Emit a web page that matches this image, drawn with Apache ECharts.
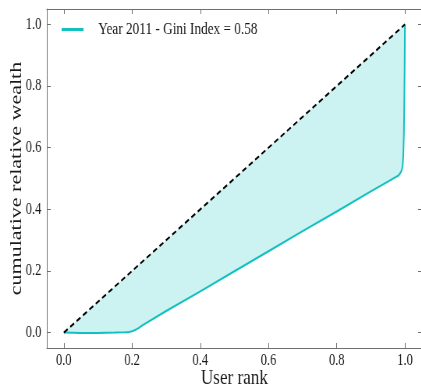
<!DOCTYPE html>
<html>
<head>
<meta charset="utf-8">
<script src="https://cdn.jsdelivr.net/npm/echarts@6/dist/echarts.min.js"></script>
<style>
  html, body { margin: 0; padding: 0; overflow: hidden; background: #fff; }
  /* the figure is drawn wide and squeezed horizontally to its final width */
  #chart { width: 560px; height: 386px; transform: scaleX(0.78); transform-origin: 0 0; }
</style>
</head>
<body>
<div id="chart"></div>
<script>
// Lorenz curve of user wealth, year 2011
const userRank = [0, 0.05, 0.1, 0.15, 0.18, 0.19, 0.2, 0.21, 0.22, 0.23, 0.3, 0.4, 0.5, 0.6, 0.7, 0.8, 0.9, 0.95, 0.97, 0.98, 0.985, 0.99, 0.993, 0.995, 0.997, 0.999, 1.0];
const cumWealth = [0, -0.001, -0.001, 0, 0.001, 0.0015, 0.004, 0.009, 0.0155, 0.0235, 0.070, 0.134, 0.199, 0.264, 0.329, 0.393, 0.458, 0.490, 0.503, 0.509, 0.515, 0.525, 0.540, 0.570, 0.650, 0.850, 1.0];
// line of perfect equality
const equalityX = [0, 1];
const equalityY = [0, 1];
const tickValues = [0, 0.2, 0.4, 0.6, 0.8, 1.0];
const legendLabel = 'Year 2011 - Gini Index = 0.58';

const FONT = 'Liberation Serif';
const AXIS_COLOR = '#6e6e6e';
const CURVE_COLOR = '#12c0c0';

const curvePts = userRank.map((x, i) => [x, cumWealth[i]]);
const equalityPts = equalityX.map((x, i) => [x, equalityY[i]]);

function tickLabel(v) {
  return tickValues.some(t => Math.abs(t - v) < 1e-6) ? v.toFixed(1) : '';
}

function axisBase(extra) {
  return Object.assign({
    type: 'value', min: -0.05, max: 1.05, splitNumber: 5,
    minInterval: 0.2, maxInterval: 0.2,
    nameMoveOverlap: false,
    splitLine: { show: false },
    axisLine: { show: true, onZero: false, lineStyle: { color: AXIS_COLOR, width: 1 } },
    axisTick: { show: true, inside: true, length: 5, lineStyle: { color: AXIS_COLOR } }
  }, extra);
}

const chart = echarts.init(document.getElementById('chart'), null, { renderer: 'canvas' });
chart.setOption({
  animation: false,
  backgroundColor: '#fff',
  grid: { left: 60, right: 19, top: 9, bottom: 38, containLabel: false, outerBoundsMode: 'none' },
  legend: {
    left: 79, top: 21, padding: 0, selectedMode: false,
    itemWidth: 28, itemHeight: 3,
    data: [{ name: legendLabel, icon: 'rect' }],
    textStyle: { fontFamily: FONT, fontSize: 17, color: '#1a1a1a', padding: [0, 0, 0, 14] }
  },
  xAxis: [
    axisBase({
      position: 'bottom',
      name: 'User rank', nameLocation: 'middle', nameGap: 19,
      nameTextStyle: { fontFamily: FONT, fontSize: 22, color: '#1a1a1a' },
      axisLabel: { fontFamily: FONT, fontSize: 16, color: '#1a1a1a', margin: 5, formatter: tickLabel }
    }),
    axisBase({ position: 'top', axisLabel: { show: false } })
  ],
  yAxis: [
    axisBase({
      position: 'left',
      name: 'cumulative relative wealth', nameLocation: 'middle', nameGap: 28,
      nameTextStyle: { fontFamily: FONT, fontSize: 22, color: '#1a1a1a' },
      axisLabel: { fontFamily: FONT, fontSize: 16, color: '#1a1a1a', margin: 7, formatter: tickLabel }
    }),
    axisBase({ position: 'right', axisLabel: { show: false } })
  ],
  series: [
    {
      // shaded region between equality line and the Lorenz curve
      type: 'custom', name: 'gap', xAxisIndex: 0, yAxisIndex: 0,
      data: [[0, 0]], silent: true, z: 1,
      renderItem: function (params, api) {
        const pts = [];
        equalityPts.forEach(p => pts.push(api.coord(p)));
        for (let i = curvePts.length - 1; i >= 0; i--) pts.push(api.coord(curvePts[i]));
        return {
          type: 'polygon',
          shape: { points: pts },
          style: { fill: 'rgba(0,191,191,0.2)', stroke: null }
        };
      }
    },
    {
      type: 'line', name: legendLabel, xAxisIndex: 0, yAxisIndex: 0,
      data: curvePts, showSymbol: false, symbol: 'none', smooth: false, z: 3,
      color: CURVE_COLOR,
      lineStyle: { color: CURVE_COLOR, width: 2 }
    },
    {
      type: 'line', name: 'equality', xAxisIndex: 0, yAxisIndex: 0,
      data: equalityPts, showSymbol: false, symbol: 'none', z: 4,
      lineStyle: { color: '#000', width: 2, type: [6, 4] }
    }
  ]
});
</script>
</body>
</html>
